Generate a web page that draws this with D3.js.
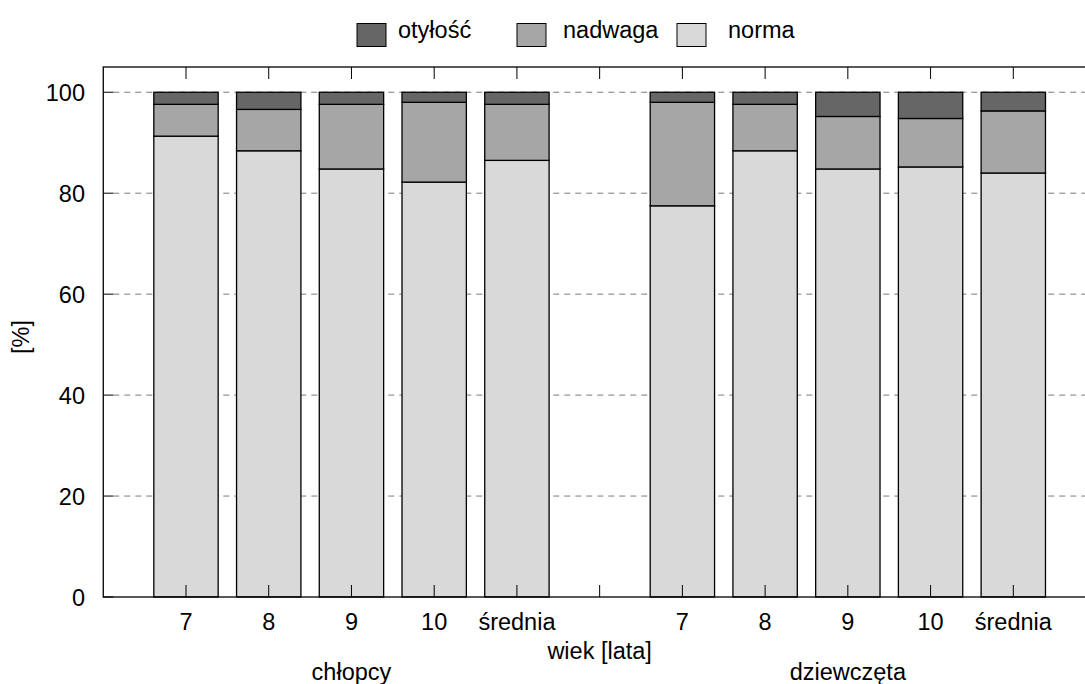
<!DOCTYPE html>
<html>
<head>
<meta charset="utf-8">
<script src="https://cdn.jsdelivr.net/npm/d3@7"></script>
<style>
  body { margin: 0; background: #fff; }
  text { font-family: "Liberation Sans", Arial, Helvetica, sans-serif; font-size: 23.5px; fill: #000; }
</style>
</head>
<body>
<script>
// data
var ages = ["7", "8", "9", "10", "średnia"];
var groups = ["chłopcy", "dziewczęta"];
var seriesNames = ["otyłość", "nadwaga", "norma"];
var seriesColors = ["#666666", "#a6a6a6", "#d9d9d9"];
var yTicks = [0, 20, 40, 60, 80, 100];

var normaBoys = [91.3, 88.4, 84.8, 82.2, 86.5];
var nadwagaBoys = [6.3, 8.2, 12.8, 15.8, 11.1];
var otyloscBoys = [2.4, 3.4, 2.4, 2.0, 2.4];

var normaGirls = [77.5, 88.4, 84.8, 85.2, 84.0];
var nadwagaGirls = [20.5, 9.2, 10.4, 9.6, 12.3];
var otyloscGirls = [2.0, 2.4, 4.8, 5.2, 3.7];

var width = 1085, height = 684;

var svg = d3.select("body").append("svg")
    .attr("width", width)
    .attr("height", height);

// build rows: boys at slots 0..4, empty slot 5, girls at 6..10
var rows = [];
ages.forEach(function(a, i) {
  rows.push({pos: i, label: a, norma: normaBoys[i], nadwaga: nadwagaBoys[i], "otyłość": otyloscBoys[i]});
});
ages.forEach(function(a, i) {
  rows.push({pos: i + 6, label: a, norma: normaGirls[i], nadwaga: nadwagaGirls[i], "otyłość": otyloscGirls[i]});
});

var x = d3.scaleLinear().domain([0, 10]).range([186, 1013.3]);
var y = d3.scaleLinear().domain([0, 105]).range([597, 67]);
var slot = x(1) - x(0);
var barW = slot * 0.778;

var plotL = x(-1), plotR = x(10.95), plotT = y(105), plotB = y(0);

// grid
svg.append("g")
  .selectAll("line")
  .data(yTicks.filter(function(d) { return d > 0; }))
  .enter().append("line")
  .attr("x1", plotL + 10)
  .attr("x2", plotR)
  .attr("y1", function(d) { return y(d); })
  .attr("y2", function(d) { return y(d); })
  .attr("stroke", "#7a7a7a")
  .attr("stroke-width", 1)
  .attr("stroke-dasharray", "6,5");

// stacked bars (bottom to top: norma, nadwaga, otyłość)
var stack = d3.stack().keys(["norma", "nadwaga", "otyłość"]);
var layers = stack(rows);
var colorOf = {"otyłość": seriesColors[0], "nadwaga": seriesColors[1], "norma": seriesColors[2]};

svg.append("g")
  .selectAll("g")
  .data(layers)
  .enter().append("g")
  .attr("fill", function(d) { return colorOf[d.key]; })
  .selectAll("rect")
  .data(function(d) { return d; })
  .enter().append("rect")
  .attr("x", function(d) { return x(d.data.pos) - barW / 2; })
  .attr("y", function(d) { return y(d[1]); })
  .attr("width", barW)
  .attr("height", function(d) { return y(d[0]) - y(d[1]); })
  .attr("stroke", "#000")
  .attr("stroke-width", 1.3);

// frame
svg.append("rect")
  .attr("x", plotL).attr("y", plotT)
  .attr("width", plotR - plotL).attr("height", plotB - plotT)
  .attr("fill", "none")
  .attr("stroke", "#000")
  .attr("stroke-width", 1.3);

// x ticks (bottom and top, inward)
var xPos = d3.range(0, 11);
svg.append("g").selectAll("line").data(xPos).enter().append("line")
  .attr("x1", function(d) { return x(d); }).attr("x2", function(d) { return x(d); })
  .attr("y1", plotB).attr("y2", plotB - 12)
  .attr("stroke", "#000").attr("stroke-width", 1);
svg.append("g").selectAll("line").data(xPos).enter().append("line")
  .attr("x1", function(d) { return x(d); }).attr("x2", function(d) { return x(d); })
  .attr("y1", plotT).attr("y2", plotT + 12)
  .attr("stroke", "#000").attr("stroke-width", 1);

// y ticks
svg.append("g").selectAll("line").data(yTicks).enter().append("line")
  .attr("x1", plotL).attr("x2", plotL + 10)
  .attr("y1", function(d) { return y(d); }).attr("y2", function(d) { return y(d); })
  .attr("stroke", "#000").attr("stroke-width", 1);

svg.append("g").selectAll("text").data(yTicks).enter().append("text")
  .attr("x", 85)
  .attr("y", function(d) { return y(d) + 8.5; })
  .attr("text-anchor", "end")
  .text(function(d) { return d; });

// x labels
svg.append("g").selectAll("text").data(rows).enter().append("text")
  .attr("x", function(d) { return x(d.pos); })
  .attr("y", 629.5)
  .attr("text-anchor", "middle")
  .text(function(d) { return d.label; });

svg.append("text")
  .attr("x", x(5)).attr("y", 659)
  .attr("text-anchor", "middle")
  .text("wiek [lata]");

svg.selectAll(".grp").data(groups).enter().append("text")
  .attr("class", "grp")
  .attr("x", function(d, i) { return x(i * 6 + 2); })
  .attr("y", 680)
  .attr("text-anchor", "middle")
  .text(function(d) { return d; });

svg.append("text")
  .attr("transform", "translate(29,337) rotate(-90)")
  .attr("text-anchor", "middle")
  .text("[%]");

// legend
var legendX = [357, 517, 677];
var legend = svg.append("g").selectAll("g").data(seriesNames).enter().append("g");
legend.append("rect")
  .attr("x", function(d, i) { return legendX[i]; })
  .attr("y", 23.5)
  .attr("width", 29).attr("height", 23)
  .attr("fill", function(d, i) { return seriesColors[i]; })
  .attr("stroke", "#000").attr("stroke-width", 1);
legend.append("text")
  .attr("x", function(d, i) { return [398, 563, 728][i]; })
  .attr("y", 37.5)
  .text(function(d) { return d; });
</script>
</body>
</html>
